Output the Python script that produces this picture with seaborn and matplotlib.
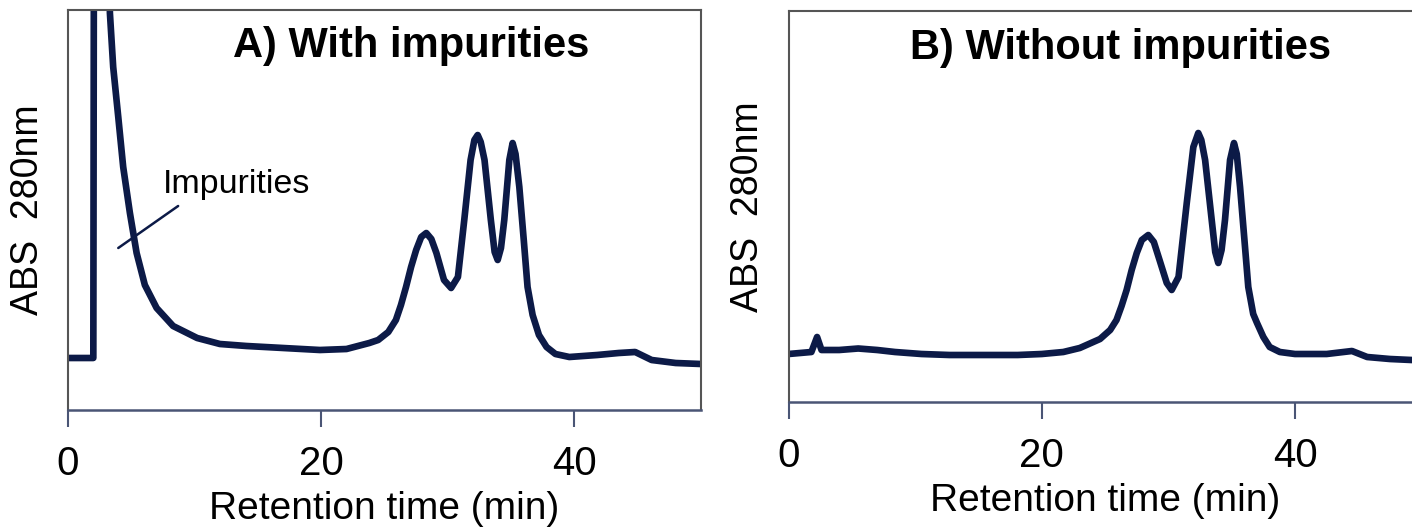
import matplotlib
matplotlib.use("Agg")
import matplotlib.pyplot as plt
import seaborn as sns

# chromatogram A (with impurities)
time_a = [0, 2.0, 2.05, 3.2, 3.31, 3.57, 3.97, 4.36, 4.89, 5.42, 6.07, 7.0, 8.3, 10.2, 12.0,
          14.1, 17.0, 19.9, 22.0, 23.8, 24.5, 25.3, 25.9, 26.3, 26.7, 27.1, 27.5, 27.9, 28.3,
          28.7, 29.1, 29.7, 30.26, 30.8, 31.3, 31.8, 32.1, 32.36, 32.6, 32.9, 33.4, 33.7, 33.94,
          34.2, 34.46, 34.86, 35.12, 35.35, 35.65, 36.0, 36.3, 36.7, 37.2, 37.8, 38.5, 39.6,
          41.8, 43.5, 44.8, 46.1, 48.0, 50.0]
abs_a = [0.02, 0.02, 4.5, 4.5, 3.47, 2.93, 2.43, 1.93, 1.47, 1.07, 0.75, 0.52, 0.34, 0.22, 0.16,
         0.14, 0.12, 0.10, 0.11, 0.17, 0.20, 0.28, 0.40, 0.55, 0.73, 0.93, 1.10, 1.23, 1.27,
         1.21, 1.07, 0.80, 0.72, 0.83, 1.40, 2.00, 2.20, 2.25, 2.18, 2.00, 1.40, 1.08, 1.00,
         1.12, 1.40, 2.00, 2.17, 2.06, 1.73, 1.20, 0.73, 0.45, 0.25, 0.13, 0.06, 0.03,
         0.05, 0.07, 0.08, 0.0, -0.03, -0.04]

# chromatogram B (without impurities)
time_b = [0, 1.8, 2.25, 2.6, 4.0, 5.5, 7.0, 8.4, 10.5, 12.7, 15.5, 18.1, 20.0, 21.7, 23.0,
          24.6, 25.4, 25.9, 26.3, 26.7, 27.1, 27.5, 27.9, 28.41, 28.85, 29.3, 29.87, 30.26,
          30.8, 31.45, 31.97, 32.36, 32.6, 32.9, 33.42, 33.7, 33.94, 34.2, 34.47, 34.87, 35.18,
          35.4, 35.66, 36.0, 36.31, 36.7, 37.0, 37.5, 38.0, 38.8, 40.0, 42.5, 44.5, 45.7,
          47.5, 49.2, 50.0]
abs_b = [0.0, 0.02, 0.17, 0.04, 0.04, 0.055, 0.04, 0.02, 0.0, -0.01, -0.01, -0.01, 0.0, 0.02, 0.06,
         0.15, 0.24, 0.34, 0.48, 0.64, 0.84, 1.01, 1.14, 1.19, 1.12, 0.94, 0.71, 0.64,
         0.77, 1.51, 2.07, 2.21, 2.14, 1.94, 1.34, 1.02, 0.91, 1.04, 1.34, 1.94, 2.11,
         2.00, 1.67, 1.15, 0.67, 0.40, 0.31, 0.17, 0.07, 0.02, 0.0, 0.0, 0.03, -0.03,
         -0.05, -0.06, -0.06]

x_ticks = [0, 20, 40]
titles = ["A) With impurities", "B) Without impurities"]

sns.set_style("white")
plt.rcParams['font.family'] = ['Liberation Sans', 'DejaVu Sans']
plt.rcParams['text.color'] = 'black'
plt.rcParams['axes.labelcolor'] = 'black'
plt.rcParams['xtick.labelcolor'] = 'black'

line_col = '#0c1a47'
fig = plt.figure(figsize=(14.12, 5.28), dpi=100)
ax1 = fig.add_axes([68/1412, (528-410)/528, 633/1412, 400/528])
ax2 = fig.add_axes([788.6/1412, (528-402)/528, 633/1412, 391/528])

sns.lineplot(x=time_a, y=abs_a, ax=ax1, color=line_col, linewidth=4.8,
             estimator=None, sort=False, solid_joinstyle='round', solid_capstyle='round')
sns.lineplot(x=time_b, y=abs_b, ax=ax2, color=line_col, linewidth=4.8,
             estimator=None, sort=False, solid_joinstyle='round', solid_capstyle='round')

ax1.set_ylim(-0.5, 3.5)
ax2.set_ylim(-0.48, 3.43)

for ax, title, tx, ty in [(ax1, titles[0], 0.542, 0.882), (ax2, titles[1], 0.525, 0.877)]:
    ax.set_xlim(0, 50)
    ax.set_xticks(x_ticks)
    ax.set_xticklabels([str(t) for t in x_ticks])
    ax.set_yticks([])
    ax.tick_params(axis='x', direction='out', length=12, width=1.5, color='#4a5575',
                   labelsize=29, pad=13, bottom=True)
    for side in ['top', 'left', 'right']:
        ax.spines[side].set_color('#555555')
        ax.spines[side].set_linewidth(1.5)
    ax.spines['bottom'].set_color('#4a5575')
    ax.spines['bottom'].set_linewidth(1.8)
    ax.set_xlabel("Retention time (min)", fontsize=28, labelpad=6)
    ax.set_ylabel("ABS  280nm", fontsize=27, labelpad=16)
    ax.text(tx, ty, title, transform=ax.transAxes, ha='center', va='baseline',
            fontsize=30, fontweight='bold')

# label for the impurity front
ax1.plot([3.97, 8.7], [1.12, 1.54], color=line_col, linewidth=1.8)
ax1.text(7.5, 1.67, "Impurities", fontsize=24.5, va='baseline', ha='left')

fig.savefig("out.png", dpi=100)
